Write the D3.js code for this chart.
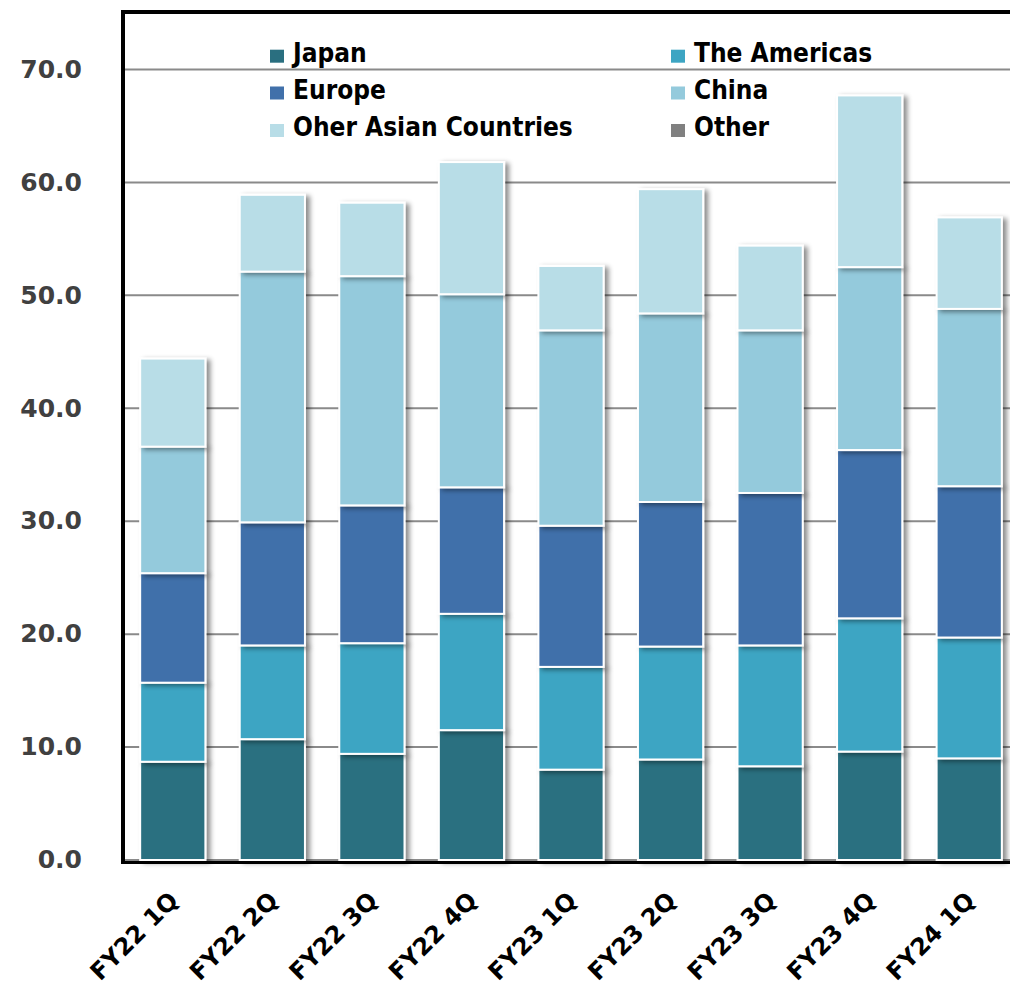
<!DOCTYPE html>
<html><head><meta charset="utf-8">
<script src="https://cdn.jsdelivr.net/npm/d3@7"></script>
<style>
html,body{margin:0;padding:0;background:#fff;}
svg{display:block;}
.t{font-family:'DejaVu Sans Condensed','DejaVu Sans',sans-serif;font-stretch:condensed;font-weight:bold;}
.w{font-family:'DejaVu Sans',sans-serif;font-weight:bold;}
</style></head>
<body>
<svg id="c" width="1010" height="986"></svg>
<script>
const categories = ["FY22 1Q","FY22 2Q","FY22 3Q","FY22 4Q","FY23 1Q","FY23 2Q","FY23 3Q","FY23 4Q","FY24 1Q"];
const seriesNames = ["Japan","The Americas","Europe","China","Oher Asian Countries","Other"];
const japan      = [8.7, 10.7, 9.4, 11.5, 8.0, 8.9, 8.3, 9.6, 9.0];
const americas   = [7.0, 8.3, 9.8, 10.3, 9.1, 10.0, 10.7, 11.8, 10.7];
const europe     = [9.7, 10.9, 12.2, 11.2, 12.5, 12.8, 13.5, 14.9, 13.4];
const china      = [11.2, 22.2, 20.3, 17.1, 17.3, 16.7, 14.4, 16.2, 15.7];
const otherAsia  = [7.8, 6.8, 6.5, 11.7, 5.7, 11.0, 7.5, 15.2, 8.1];
const other      = [0, 0, 0, 0, 0, 0, 0, 0, 0];
const yTicks = [0,10,20,30,40,50,60,70];
const colors = ["#2A6F80","#3DA5C3","#4170AA","#94CADC","#B8DDE7","#808080"];

const seriesVals = [japan, americas, europe, china, otherAsia, other];
const table = categories.map((c,i)=>{const o={cat:c}; seriesNames.forEach((s,j)=>o[s]=seriesVals[j][i]); return o;});

const svg = d3.select("#c");
const defs = svg.append("defs");
const f = defs.append("filter").attr("id","sh").attr("x","-20%").attr("y","-20%").attr("width","150%").attr("height","150%");
f.append("feDropShadow").attr("dx",4).attr("dy",2).attr("stdDeviation",2.5).attr("flood-color","#000").attr("flood-opacity",0.45);

const x = d3.scaleBand().domain(categories).range([123,1019]).paddingInner(0.345).paddingOuter(0.1725);
const y = d3.scaleLinear().domain([0,75]).range([860,13]);

// gridlines
svg.append("g").selectAll("line").data(yTicks).join("line")
  .attr("x1",124).attr("x2",1010).attr("y1",d=>y(d)).attr("y2",d=>y(d))
  .attr("stroke","#8a8a8a").attr("stroke-width",2);

// y labels
svg.append("g").selectAll("text").data(yTicks).join("text").attr("class","w")
  .attr("x",82).attr("y",d=>y(d)).attr("dy","0.33em").attr("text-anchor","end")
  .attr("fill","#404040").attr("font-size",25).text(d=>d.toFixed(1));

// bars
const stack = d3.stack().keys(seriesNames)(table);
const gBars = svg.append("g");
stack.forEach((layer,j)=>{
  gBars.append("g").attr("filter","url(#sh)").selectAll("rect").data(layer).join("rect")
    .attr("x",d=>x(d.data.cat)).attr("width",x.bandwidth())
    .attr("y",d=>y(d[1])).attr("height",d=>Math.max(0,y(d[0])-y(d[1])))
    .attr("fill",colors[j]).attr("stroke","#fff").attr("stroke-width",2)
    .style("display",d=>(d[1]-d[0])>0?null:"none");
});

// frame
svg.append("line").attr("x1",121).attr("x2",1010).attr("y1",12).attr("y2",12).attr("stroke","#000").attr("stroke-width",4);
svg.append("line").attr("x1",123).attr("x2",123).attr("y1",10).attr("y2",864).attr("stroke","#000").attr("stroke-width",4);
svg.append("line").attr("x1",121).attr("x2",1010).attr("y1",862.5).attr("y2",862.5).attr("stroke","#000").attr("stroke-width",3);

// x labels
svg.append("g").selectAll("text").data(categories).join("text").attr("class","w")
  .attr("transform",d=>`translate(${x(d)+x.bandwidth()/2+7},902) rotate(-45)`)
  .attr("text-anchor","end").attr("font-size",24).attr("fill","#000").text(d=>d);

// legend
const legPos = [[270,61.7],[671,61.7],[270,98.5],[671,98.5],[270,136],[671,136]];
const lg = svg.append("g");
seriesNames.forEach((s,j)=>{
  const [lx,ly] = legPos[j];
  lg.append("rect").attr("x",lx).attr("y",ly-12).attr("width",14).attr("height",13).attr("fill",colors[j]);
  lg.append("text").attr("class","t").attr("x",lx+23).attr("y",ly).attr("font-size",26).attr("fill","#000").text(s);
});
</script>
</body></html>
